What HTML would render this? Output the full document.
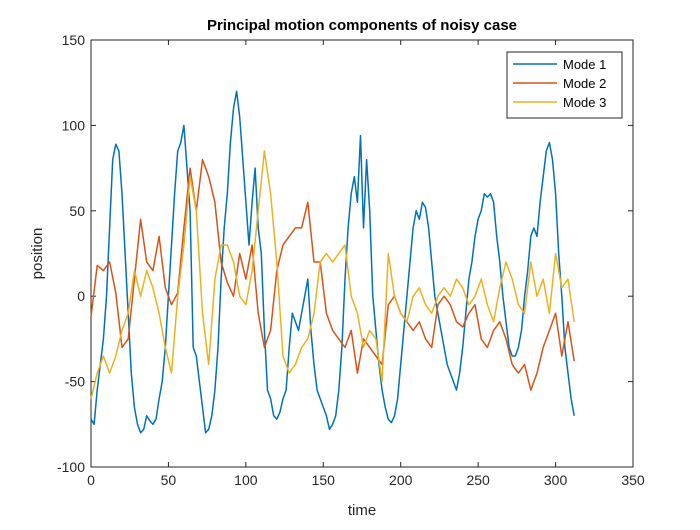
<!DOCTYPE html>
<html><head><meta charset="utf-8"><style>
body{margin:0;background:#fff;font-family:"Liberation Sans",sans-serif}
text{font-family:"Liberation Sans",sans-serif}
</style></head><body>
<svg id="chart" width="700" height="525" xmlns="http://www.w3.org/2000/svg">
<rect width="700" height="525" fill="#fff"/>
<g id="plot"></g>
</svg>
<script>
const xTicks=[0,50,100,150,200,250,300,350];
const yTicks=[-100,-50,0,50,100,150];
const mode1=[-72,-75,-55,-40,-25,0,40,80,89,85,60,25,-10,-45,-65,-75,-80,-78,-70,-73,-75,-72,-60,-50,-30,0,30,60,85,90,100,75,50,-30,-35,-50,-65,-80,-78,-70,-55,-30,10,40,60,90,110,120,105,80,55,30,55,75,40,25,-20,-55,-60,-70,-72,-68,-60,-55,-30,-10,-15,-20,-10,0,10,-20,-40,-55,-60,-65,-70,-78,-75,-70,-55,-30,10,40,60,70,55,94,40,80,50,0,-20,-40,-55,-65,-72,-74,-70,-60,-40,-20,0,20,40,50,45,55,52,40,20,0,-10,-20,-30,-40,-45,-50,-55,-45,-30,-10,10,20,35,45,50,60,58,60,55,35,20,0,-15,-30,-35,-35,-30,-20,0,15,35,40,35,55,70,85,90,80,60,25,0,-30,-45,-60,-70];
const mode2=[-12,18,15,20,2,-30,-25,10,45,20,15,35,5,-5,2,40,75,50,80,70,55,20,8,0,25,10,30,-10,-30,-20,15,30,35,40,40,55,20,20,-10,-20,-25,-30,-20,-45,-25,-30,-35,-40,-5,0,-10,-15,-20,-15,-25,-30,-5,0,-5,-15,-18,-10,-5,-25,-30,-20,-15,-25,-40,-45,-40,-55,-45,-30,-20,-10,-35,-15,-38];
const mode3=[-60,-45,-35,-45,-35,-20,-10,15,0,15,5,-10,-30,-45,0,30,70,50,-10,-40,10,30,30,20,0,-5,15,50,85,60,20,-35,-45,-40,-30,-25,-10,20,25,20,25,30,0,-10,-30,-20,-25,-50,25,0,-10,-15,0,5,-5,-10,0,5,0,10,5,-5,0,10,-5,-15,5,20,10,-5,-10,20,0,10,-10,25,5,10,-15];
const step1=2, step23=4;
const L=91,R=633,T=40,B=467;
const xs=v=>L+(v-0)/350*(R-L);
const ys=v=>B-(v+100)/250*(B-T);
const NS='http://www.w3.org/2000/svg';
const g=document.getElementById('plot');
function mk(tag,attrs){const e=document.createElementNS(NS,tag);for(const k in attrs)e.setAttribute(k,attrs[k]);g.appendChild(e);return e;}
// axes box
const box=mk('rect',{x:L,y:T,width:R-L,height:B-T,fill:'#fff',stroke:'#262626','stroke-width':1});


xTicks.forEach(t=>{
  const x=xs(t);
  const a=mk('line',{x1:x,x2:x,y1:B,y2:B-5,stroke:'#262626'});
  
  
  mk('line',{x1:x,x2:x,y1:T,y2:T+5,stroke:'#262626'});
  const tx=mk('text',{x:x,y:B+18,'text-anchor':'middle','font-size':14,fill:'#262626'});
  tx.textContent=t;
  
  
});
yTicks.forEach(t=>{
  const y=ys(t);
  const a=mk('line',{x1:L,x2:L+5,y1:y,y2:y,stroke:'#262626'});
  
  
  mk('line',{x1:R,x2:R-5,y1:y,y2:y,stroke:'#262626'});
  const tx=mk('text',{x:L-6,y:y+5,'text-anchor':'end','font-size':14,fill:'#262626'});
  tx.textContent=t;
  
  
});
function series(arr,step,color,name){
  const pts=arr.map((v,i)=>xs(i*step).toFixed(1)+','+ys(v).toFixed(1)).join(' ');
  const p=mk('polyline',{points:pts,fill:'none',stroke:color,'stroke-width':1.5,'stroke-linejoin':'round'});
  
  
}
series(mode1,step1,'#0072BD','mode-1-line');
series(mode2,step23,'#D95319','mode-2-line');
series(mode3,step23,'#EDB120','mode-3-line');
const title=mk('text',{x:(L+R)/2,y:30,'text-anchor':'middle','font-size':15,'font-weight':'bold',fill:'#000'});
title.textContent='Principal motion components of noisy case';


const xl=mk('text',{x:(L+R)/2,y:515,'text-anchor':'middle','font-size':15,fill:'#262626'});
xl.textContent='time';


const yl=mk('text',{x:0,y:0,'text-anchor':'middle','font-size':15,fill:'#262626',transform:'translate(42,'+((T+B)/2)+') rotate(-90)'});
yl.textContent='position';


const lg=mk('rect',{x:507,y:52,width:115,height:66,fill:'#fff',stroke:'#262626','stroke-width':1});


[['Mode 1','#0072BD'],['Mode 2','#D95319'],['Mode 3','#EDB120']].forEach((d,i)=>{
  const y=64+i*19;
  const ln=mk('line',{x1:513,x2:557,y1:y,y2:y,stroke:d[1],'stroke-width':1.5});
  
  
  const tx=mk('text',{x:563,y:y+5,'font-size':13,fill:'#000'});
  tx.textContent=d[0];
  
  
});
</script>
</body></html>
